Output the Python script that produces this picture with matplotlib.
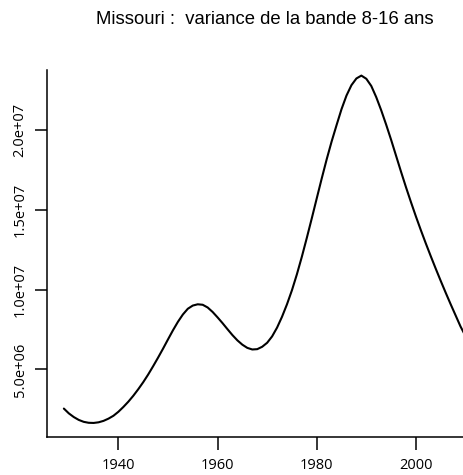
import matplotlib
matplotlib.use("Agg")
import matplotlib.pyplot as plt
from matplotlib.ticker import FuncFormatter

# valeurs (variance, bande 8-16 ans), une par annee
annees = list(range(1929, 2011))
variance = [2.55e6, 2.25e6, 2.02e6, 1.84e6, 1.72e6, 1.66e6, 1.65e6, 1.69e6, 1.78e6, 1.92e6,
            2.10e6, 2.35e6, 2.65e6, 2.98e6, 3.35e6, 3.76e6, 4.20e6, 4.68e6, 5.20e6, 5.74e6,
            6.30e6, 6.88e6, 7.45e6, 7.98e6, 8.44e6, 8.80e6, 9.00e6, 9.08e6, 9.05e6, 8.88e6,
            8.60e6, 8.26e6, 7.90e6, 7.52e6, 7.15e6, 6.82e6, 6.55e6, 6.35e6, 6.25e6, 6.27e6,
            6.42e6, 6.67e6, 7.07e6, 7.62e6, 8.30e6, 9.08e6, 9.96e6, 10.96e6, 12.06e6, 13.24e6,
            14.46e6, 15.71e6, 16.95e6, 18.15e6, 19.27e6, 20.30e6, 21.30e6, 22.15e6, 22.80e6, 23.22e6,
            23.40e6, 23.20e6, 22.75e6, 22.05e6, 21.23e6, 20.33e6, 19.38e6, 18.38e6, 17.38e6, 16.41e6,
            15.48e6, 14.58e6, 13.72e6, 12.89e6, 12.09e6, 11.31e6, 10.55e6, 9.81e6, 9.09e6, 8.39e6,
            7.69e6, 7.09e6]

xticks = [1940, 1960, 1980, 2000]
yticks = [5e6, 1e7, 1.5e7, 2e7]


def fmt_sci(v, pos):
    mant, expo = f"{v:.1e}".split("e")
    return "%se+%02d" % (mant, int(expo))


fig = plt.figure(figsize=(4.64, 4.75), dpi=100)
ax = fig.add_axes([47 / 464, 38 / 475, 1 - 47 / 464, (437 - 70) / 475])

ax.plot(annees, variance, color="black", lw=1.5, solid_capstyle="round", solid_joinstyle="round")

ax.set_xlim(1925.6, 2009.7)
ax.set_ylim(0.77e6, 2.375e7)
ax.set_xticks(xticks)
ax.set_yticks(yticks)
ax.yaxis.set_major_formatter(FuncFormatter(fmt_sci))

for s in ["top", "right"]:
    ax.spines[s].set_visible(False)
for s in ["left", "bottom"]:
    ax.spines[s].set_linewidth(1.1)

ax.tick_params(length=9, width=1.1, labelsize=10.5)
ax.tick_params(axis="x", pad=6)
ax.tick_params(axis="y", pad=5)
for lab in ax.get_xticklabels() + ax.get_yticklabels():
    lab.set_fontfamily("Open Sans")
for lab in ax.get_yticklabels():
    lab.set_rotation(90)
    lab.set_va("center")

fig.text(265 / 464, 1 - 20 / 475, "Missouri :  variance de la bande 8-16 ans",
         ha="center", va="center", fontsize=13.3, family="Liberation Sans")

fig.savefig("out.png", dpi=100)
